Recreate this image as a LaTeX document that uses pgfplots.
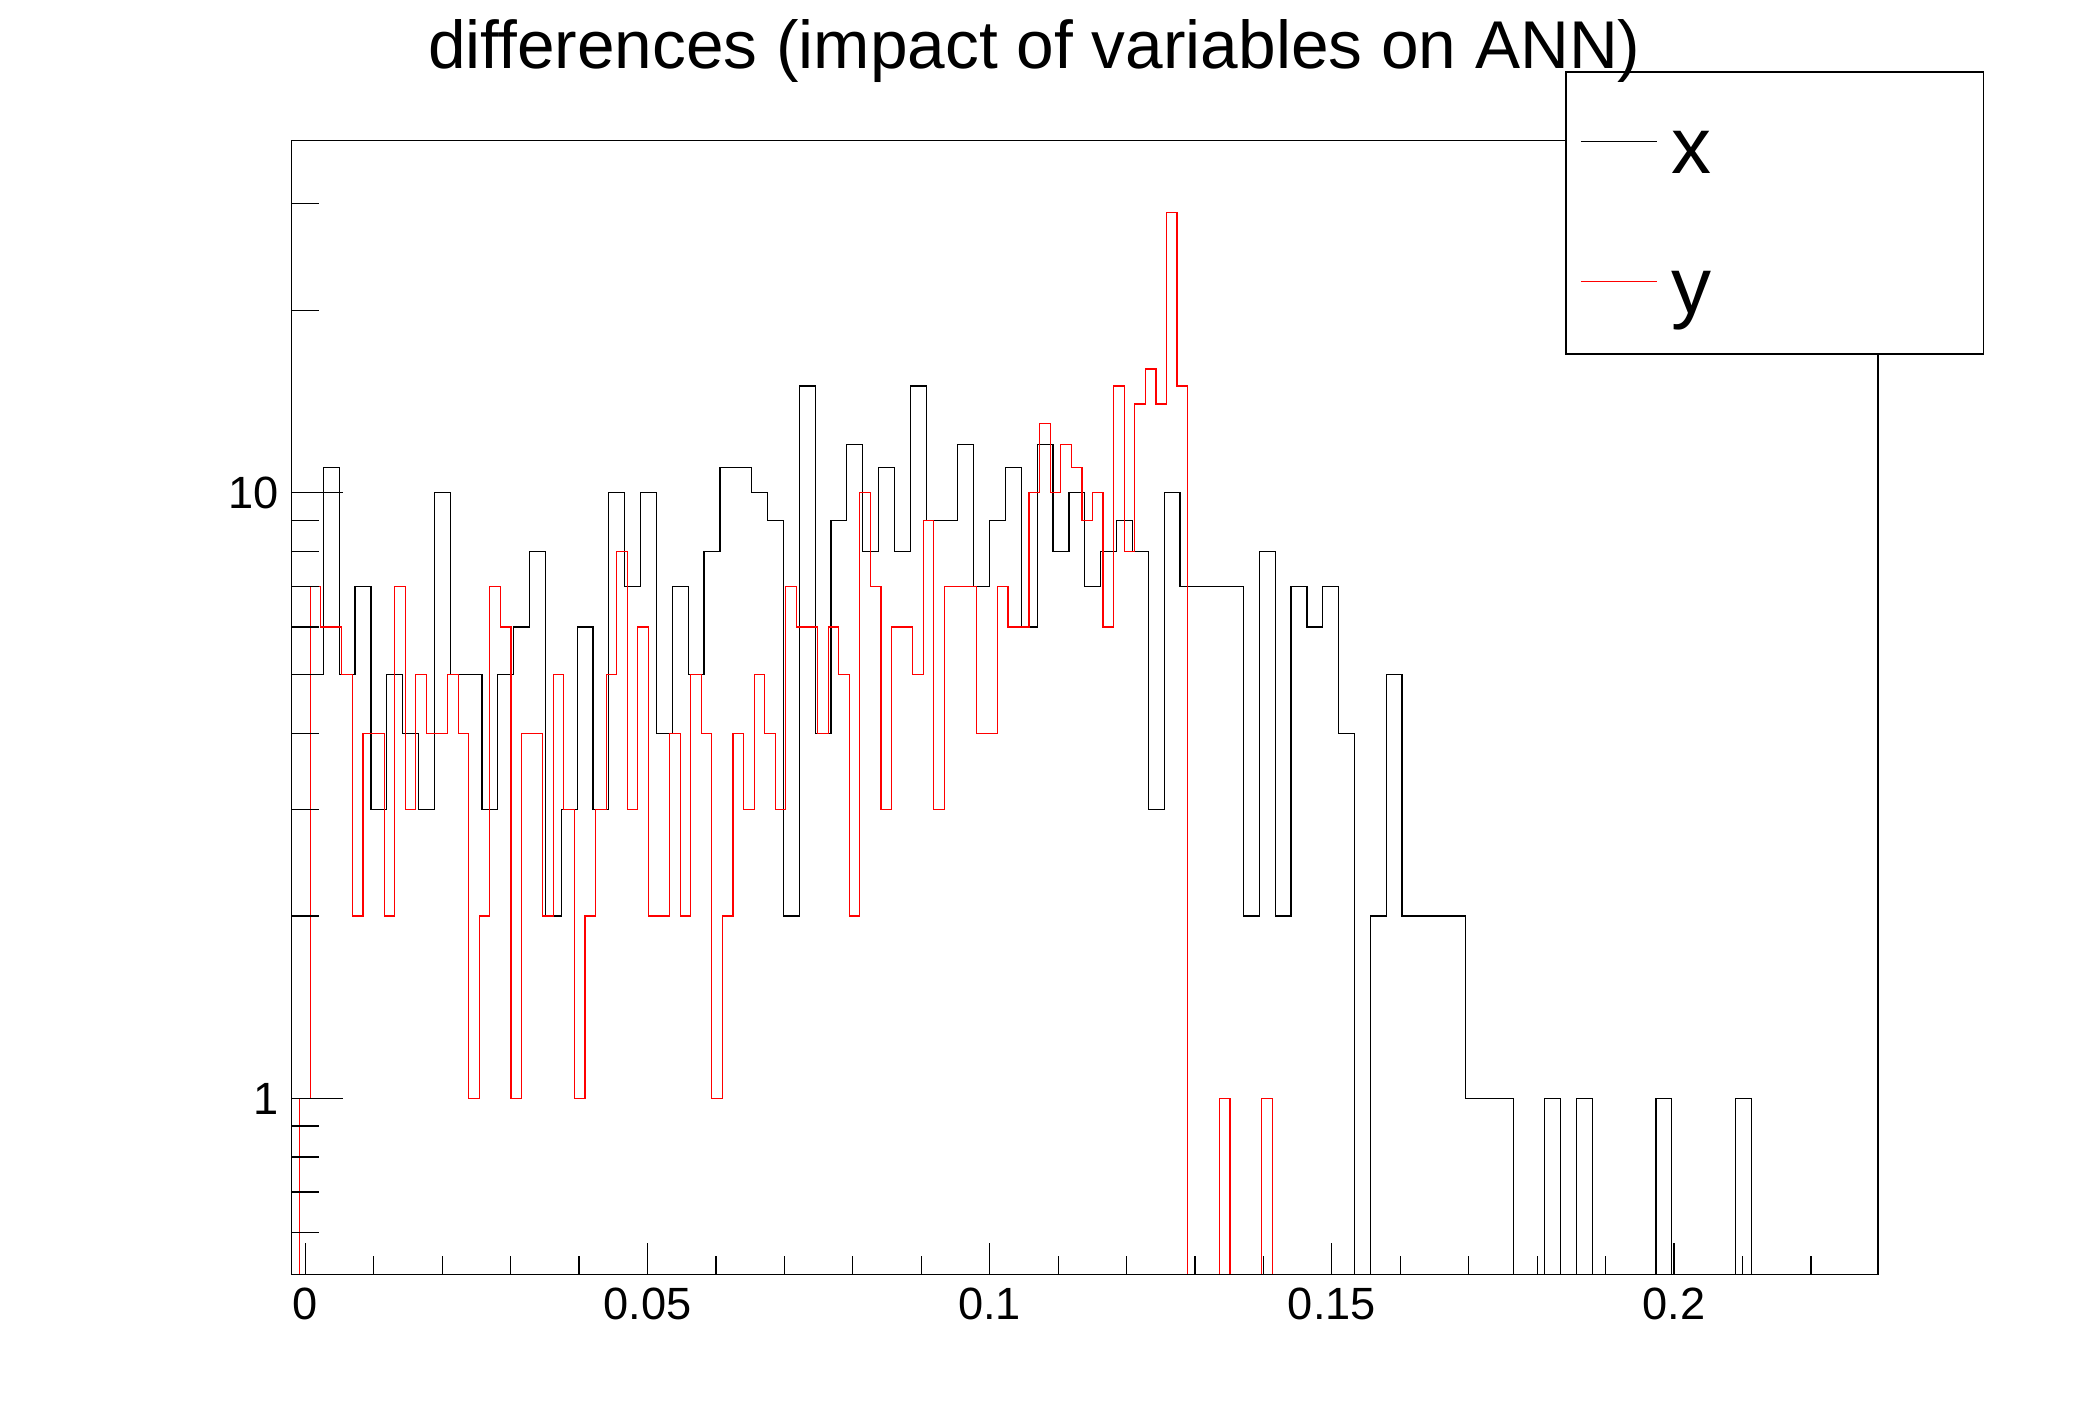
\documentclass[border=0pt]{standalone}
\usepackage{fontspec}
\setmainfont{Liberation Sans}
\usepackage{pgfplots}
\usepackage{pgfplotstable}
\pgfplotsset{compat=1.18}

% black histogram "x": 100 bins from -0.002 to 0.2298 (bin index i, content c)
\pgfplotstableread{
i c
0 0
0 5
1 5
2 11
3 5
4 7
5 3
6 5
7 4
8 3
9 10
10 5
11 5
12 3
13 5
14 6
15 8
16 2
17 3
18 6
19 3
20 10
21 7
22 10
23 4
24 7
25 5
26 8
27 11
28 11
29 10
30 9
31 2
32 15
33 4
34 9
35 12
36 8
37 11
38 8
39 15
40 9
41 9
42 12
43 7
44 9
45 11
46 6
47 12
48 8
49 10
50 7
51 8
52 9
53 8
54 3
55 10
56 7
57 7
58 7
59 7
60 2
61 8
62 2
63 7
64 6
65 7
66 4
67 0
68 2
69 5
70 2
71 2
72 2
73 2
74 1
75 1
76 1
77 0
78 0
79 1
80 0
81 1
82 0
83 0
84 0
85 0
86 1
87 0
88 0
89 0
90 0
91 1
92 0
93 0
94 0
95 0
96 0
97 0
98 0
99 0
100 0
}\histx

% red histogram "y": 100 bins of width 0.0015447 starting at -0.000833
\pgfplotstableread{
i c
0 0
0 1
1 7
2 6
3 6
4 5
5 2
6 4
7 4
8 2
9 7
10 3
11 5
12 4
13 4
14 5
15 4
16 1
17 2
18 7
19 6
20 1
21 4
22 4
23 2
24 5
25 3
26 1
27 2
28 3
29 5
30 8
31 3
32 6
33 2
34 2
35 4
36 2
37 5
38 4
39 1
40 2
41 4
42 3
43 5
44 4
45 3
46 7
47 6
48 6
49 4
50 6
51 5
52 2
53 10
54 7
55 3
56 6
57 6
58 5
59 9
60 3
61 7
62 7
63 7
64 4
65 4
66 7
67 6
68 6
69 10
70 13
71 10
72 12
73 11
74 9
75 10
76 6
77 15
78 8
79 14
80 16
81 14
82 29
83 15
84 0
85 0
86 0
87 1
88 0
89 0
90 0
91 1
92 0
93 0
94 0
95 0
96 0
97 0
98 0
99 0
100 0
}\histy

\begin{document}
\begin{tikzpicture}[x=1pt,y=1pt]
\path[use as bounding box] (0,0) rectangle (522,354);

% main axis: data, frame, y ticks
\begin{axis}[
  at={(72.9pt,35.3pt)}, anchor=south west,
  scale only axis, width=396.6pt, height=283.6pt,
  xmin=-0.002, xmax=0.2298,
  ymode=log, ymin=0.511, ymax=38.16,
  axis on top,
  axis line style={black, line width=0.3pt},
  every tick/.style={black, line width=0.3pt},
  tick align=inside,
  xtick=\empty,
  ytick pos=left,
  ytick={1,10}, yticklabels={1,10},
  minor ytick={0.6,0.7,0.8,0.9,2,3,4,5,6,7,8,9,20,30},
  major tick length=12.75pt, minor tick length=6.75pt,
  /pgf/number format/assume math mode=true,
  yticklabel style={font=\fontsize{11.3}{13}\selectfont, inner sep=0pt, anchor=base east, xshift=-3.1pt, yshift=-4.05pt},
]
\addplot[const plot, black, line width=0.3pt]
  table[x expr={-0.002+\thisrow{i}*0.002318}, y expr={max(\thisrow{c},0.05)}] {\histx};
\addplot[const plot, red, line width=0.3pt]
  table[x expr={-0.000833+\thisrow{i}*0.0015447}, y expr={max(\thisrow{c},0.05)}] {\histy};
\end{axis}

% second axis: x ticks and labels
\begin{axis}[
  at={(72.9pt,35.3pt)}, anchor=south west,
  scale only axis, width=396.6pt, height=283.6pt,
  xmin=-0.002, xmax=0.2298, ymin=0, ymax=1,
  axis line style={black, line width=0.3pt},
  every tick/.style={black, line width=0.3pt},
  tick align=inside,
  ytick=\empty,
  xtick pos=bottom,
  xtick={0,0.05,0.1,0.15,0.2}, xticklabels={0,0.05,0.1,0.15,0.2},
  minor xtick={0.01,0.02,0.03,0.04,0.06,0.07,0.08,0.09,0.11,0.12,0.13,0.14,0.16,0.17,0.18,0.19,0.21,0.22},
  major tick length=8pt, minor tick length=4.6pt,
  /pgf/number format/assume math mode=true,
  xticklabel style={font=\fontsize{11.3}{13}\selectfont, inner sep=0pt, anchor=base, yshift=-11.25pt},
]
\end{axis}

% legend
\filldraw[fill=white, draw=black, line width=0.3pt] (391.5,265.5) rectangle (495.9,336);
\draw[black, line width=0.3pt] (395.2,318.7) -- (414.2,318.7);
\draw[red, line width=0.3pt] (395.2,283.6) -- (414.2,283.6);
\node[anchor=base west, inner sep=0pt, font=\fontsize{20}{24}\selectfont] at (417.6,310.7) {x};
\node[anchor=base west, inner sep=0pt, font=\fontsize{20}{24}\selectfont] at (417.6,275.7) {y};

% title
\node[anchor=base, inner sep=0pt, font=\fontsize{16.9}{20}\selectfont] at (258.6,336.9) {differences (impact of variables on ANN)};
\end{tikzpicture}
\end{document}
